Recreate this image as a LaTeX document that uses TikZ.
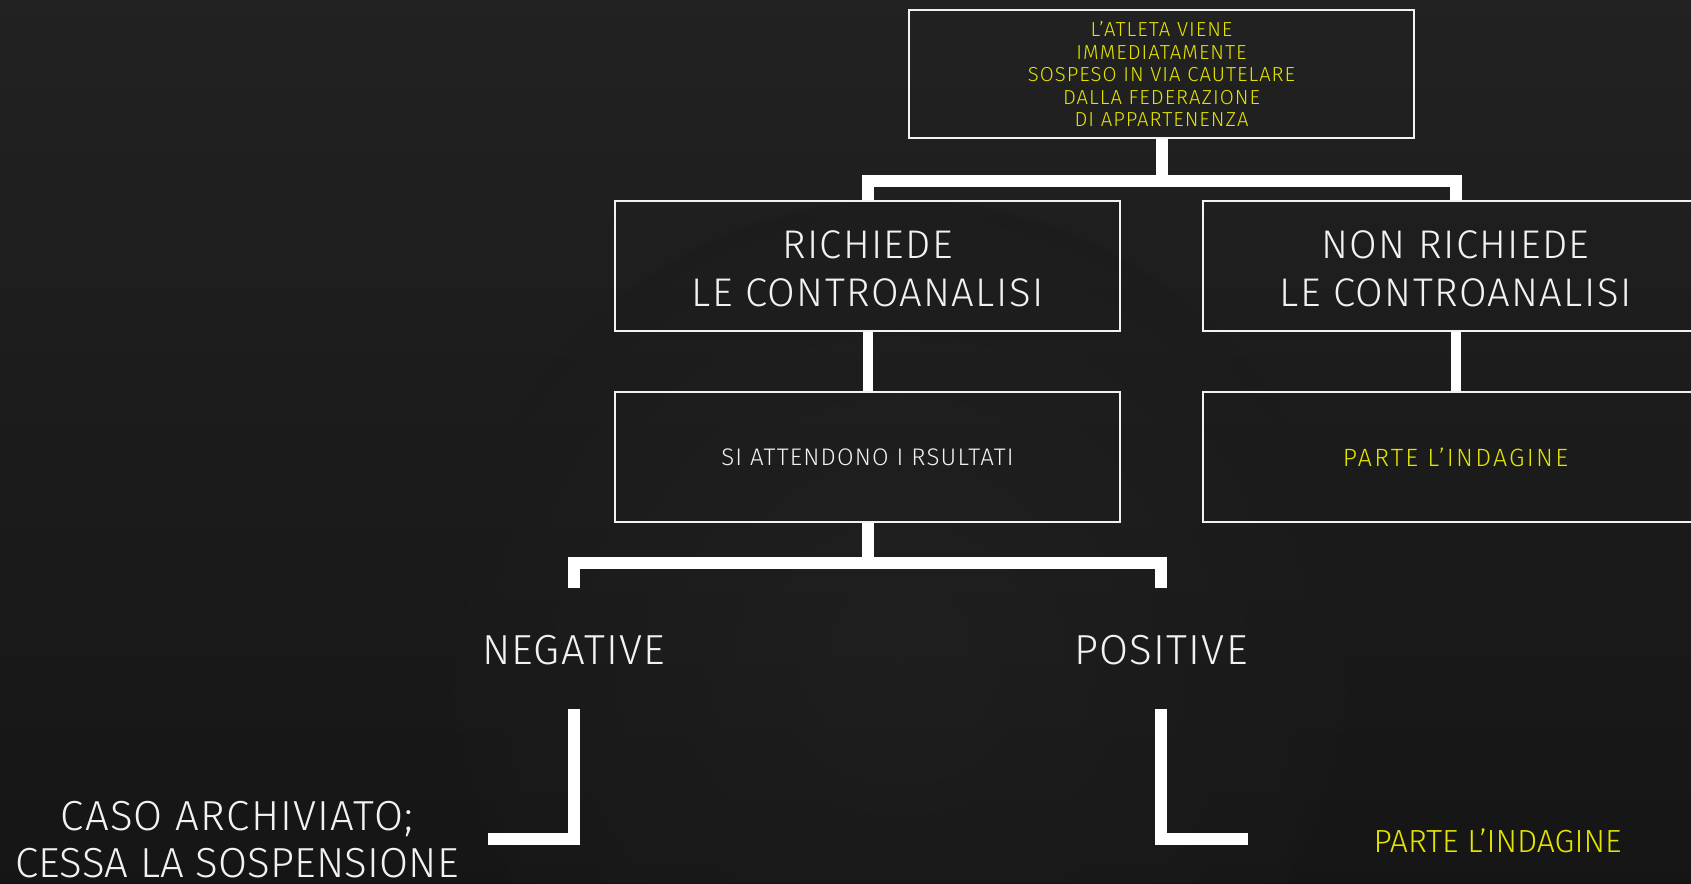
\documentclass[tikz,border=0pt]{standalone}
\usepackage{fontspec}
\newfontfamily\lt{Fira Sans Light}
\newcommand{\ls}[1]{\addfontfeature{LetterSpace=#1}}
\definecolor{bgc}{RGB}{27,27,27}
\definecolor{bgdark}{RGB}{16,16,16}
\definecolor{bglight}{RGB}{42,42,42}
\definecolor{ylw}{RGB}{228,228,0}
\definecolor{chalk}{RGB}{242,242,242}
\tikzset{
  box/.style={draw=chalk, line width=2pt, minimum width=505pt, inner sep=0pt, align=center, font=\lt},
  conn/.style={draw=white, line width=12pt, line join=miter, line cap=butt},
  stub/.style={draw=white, line width=10pt, line cap=butt},
  lbl/.style={inner sep=0pt, align=center, font=\lt, text=chalk},
}
\begin{document}
\begin{tikzpicture}[x=1pt, y=-1pt]
\useasboundingbox (0,0) rectangle (1691,883);
\clip (0,0) rectangle (1691,883);
% background
\shade[top color=bglight, bottom color=bgdark] (0,0) rectangle (1691,883);
\fill[bgc, opacity=0.5] (0,0) rectangle (1691,883);
\shade[inner color=bglight, outer color=bgc, opacity=0.35] (900,650) circle (450);
% boxes
\node[box, minimum height=128pt, text=ylw, font=\lt\fontsize{20.3}{22.5}\selectfont\ls{5}] (top) at (1161.5,74)
  {L’ATLETA VIENE\\IMMEDIATAMENTE\\SOSPESO IN VIA CAUTELARE\\DALLA FEDERAZIONE\\DI APPARTENENZA};
\node[box, minimum height=130pt] (rich) at (867.5,266) {};
\node[lbl, font=\lt\fontsize{40}{48}\selectfont\ls{3.5}] (richt) at ([yshift=-3pt]rich.center)
  {RICHIEDE\\LE CONTROANALISI};
\node[box, minimum height=130pt] (non) at (1455.5,266) {};
\node[lbl, font=\lt\fontsize{40}{48}\selectfont\ls{3.5}] (nont) at ([yshift=-3pt]non.center)
  {NON RICHIEDE\\LE CONTROANALISI};
\node[box, minimum height=130pt, text=chalk, font=\lt\fontsize{24}{28}\selectfont\ls{5}] (wait) at (867.5,457)
  {SI ATTENDONO I RSULTATI};
\node[box, minimum height=130pt, text=ylw, font=\lt\fontsize{25}{28}\selectfont\ls{9}] (inda) at (1455.5,457)
  {PARTE L’INDAGINE};
% outcome labels
\node[lbl, font=\lt\fontsize{42}{48}\selectfont\ls{3}] (neg) at (573.5,650) {NEGATIVE};
\node[lbl, font=\lt\fontsize{42}{48}\selectfont\ls{3}] (pos) at (1161,650) {POSITIVE};
\node[lbl, anchor=north, font=\lt\fontsize{42}{47}\selectfont] (caso) at (237,801)
  {{\ls{3}CASO ARCHIVIATO;}\\{\ls{0.3}CESSA LA SOSPENSIONE}};
\node[lbl, text=ylw, font=\lt\fontsize{32}{36}\selectfont] (inda2) at (1497.5,841) {PARTE L’INDAGINE};
% connectors
\coordinate (tb) at (1161.5,181);
\draw[conn] (top.south) -- (tb);
\draw[conn] (rich.north) -- (rich.north |- tb) -- (non.north |- tb) -- (non.north);
\draw[stub] (rich.south) -- (wait.north);
\draw[stub] (non.south) -- (inda.north);
\coordinate (bb) at (867.5,563);
\coordinate (nl) at (573.5,588);
\coordinate (pl) at (1161,588);
\draw[conn] (wait.south) -- (bb);
\draw[conn] (nl) -- (nl |- bb) -- (pl |- bb) -- (pl);
\coordinate (nl2) at (573.5,709);
\coordinate (nc) at (488,839);
\coordinate (pl2) at (1161,709);
\coordinate (pc) at (1248,839);
\draw[conn] (nl2) |- (nc);
\draw[conn] (pl2) |- (pc);
\end{tikzpicture}
\end{document}
